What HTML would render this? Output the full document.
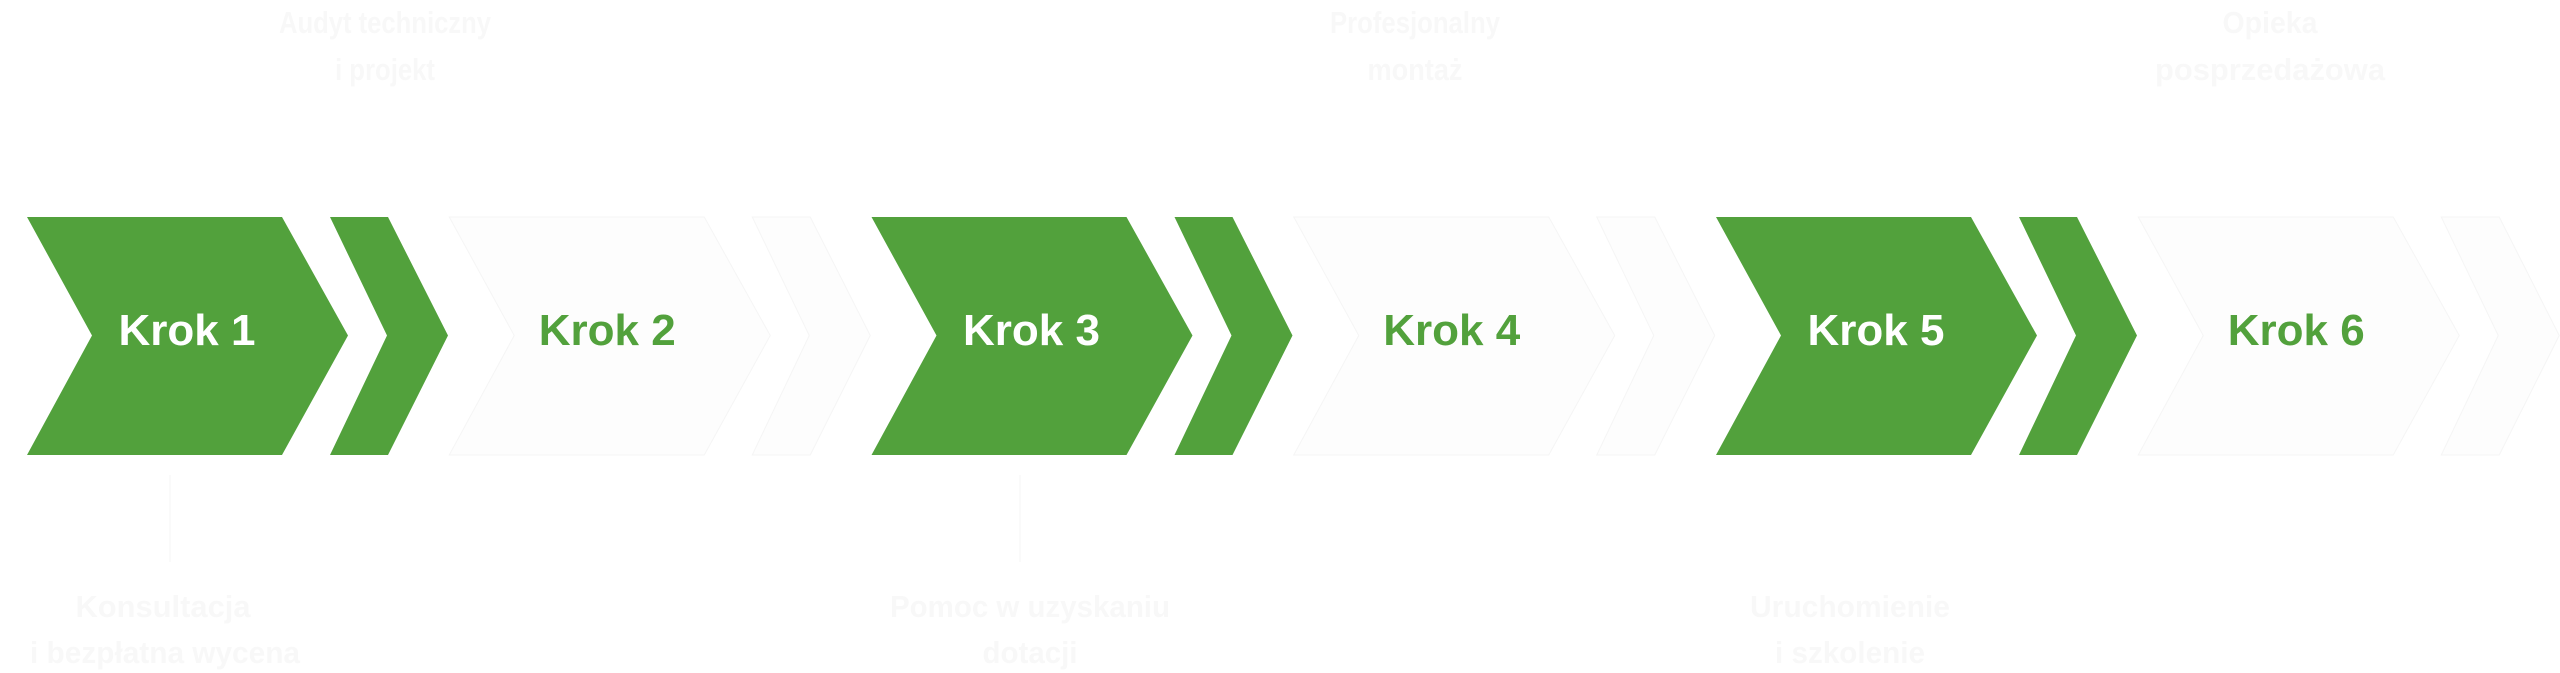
<!DOCTYPE html>
<html>
<head>
<meta charset="utf-8">
<style>
  html, body { margin:0; padding:0; background:#ffffff; }
  body { width:2560px; height:673px; overflow:hidden; }
  svg { display:block; }
  .krok { font-family:"Liberation Sans", sans-serif; font-weight:bold; font-size:44px; }
  .lbl { font-family:"Liberation Sans", sans-serif; font-weight:bold; font-size:31px; fill:#f8f8f8; }
</style>
</head>
<body>
<svg width="2560" height="673" viewBox="0 0 2560 673" xmlns="http://www.w3.org/2000/svg">
  <rect width="2560" height="673" fill="#ffffff"/>

  <!-- Group 1 (green) -->
  <g transform="translate(27,0)">
    <polygon points="0,217 255,217 321,335.5 255,455 0,455 65,335.5" fill="#52a13c"/>
    <polygon points="303,217 361,217 421,335.5 361,455 303,455 360,335.5" fill="#52a13c"/>
    <text class="krok" x="160" y="345" text-anchor="middle" fill="#ffffff">Krok 1</text>
  </g>

  <!-- Group 2 (white) -->
  <g transform="translate(449.25,0)">
    <polygon points="0,217 255,217 321,335.5 255,455 0,455 65,335.5" fill="#fdfdfd" stroke="#f5f5f5" stroke-width="1"/>
    <polygon points="303,217 361,217 421,335.5 361,455 303,455 360,335.5" fill="#fdfdfd" stroke="#f5f5f5" stroke-width="1"/>
    <text class="krok" x="158" y="345" text-anchor="middle" fill="#52a13c">Krok 2</text>
  </g>

  <!-- Group 3 (green) -->
  <g transform="translate(871.5,0)">
    <polygon points="0,217 255,217 321,335.5 255,455 0,455 65,335.5" fill="#52a13c"/>
    <polygon points="303,217 361,217 421,335.5 361,455 303,455 360,335.5" fill="#52a13c"/>
    <text class="krok" x="160" y="345" text-anchor="middle" fill="#ffffff">Krok 3</text>
  </g>

  <!-- Group 4 (white) -->
  <g transform="translate(1293.75,0)">
    <polygon points="0,217 255,217 321,335.5 255,455 0,455 65,335.5" fill="#fdfdfd" stroke="#f5f5f5" stroke-width="1"/>
    <polygon points="303,217 361,217 421,335.5 361,455 303,455 360,335.5" fill="#fdfdfd" stroke="#f5f5f5" stroke-width="1"/>
    <text class="krok" x="158" y="345" text-anchor="middle" fill="#52a13c">Krok 4</text>
  </g>

  <!-- Group 5 (green) -->
  <g transform="translate(1716,0)">
    <polygon points="0,217 255,217 321,335.5 255,455 0,455 65,335.5" fill="#52a13c"/>
    <polygon points="303,217 361,217 421,335.5 361,455 303,455 360,335.5" fill="#52a13c"/>
    <text class="krok" x="160" y="345" text-anchor="middle" fill="#ffffff">Krok 5</text>
  </g>

  <!-- Group 6 (white) -->
  <g transform="translate(2138.25,0)">
    <polygon points="0,217 255,217 321,335.5 255,455 0,455 65,335.5" fill="#fdfdfd" stroke="#f5f5f5" stroke-width="1"/>
    <polygon points="303,217 361,217 421,335.5 361,455 303,455 360,335.5" fill="#fdfdfd" stroke="#f5f5f5" stroke-width="1"/>
    <text class="krok" x="158" y="345" text-anchor="middle" fill="#52a13c">Krok 6</text>
  </g>

  <!-- Connector lines (faint) -->
  <line x1="170" y1="475" x2="170" y2="562" stroke="#f5f5f5" stroke-width="1"/>
  <line x1="1020" y1="475" x2="1020" y2="562" stroke="#f5f5f5" stroke-width="1"/>

  <!-- Top labels -->
  <text class="lbl" x="385" y="33" text-anchor="middle" textLength="212" lengthAdjust="spacingAndGlyphs">Audyt techniczny</text>
  <text class="lbl" x="385" y="80" text-anchor="middle" textLength="100" lengthAdjust="spacingAndGlyphs">i projekt</text>

  <text class="lbl" x="1415" y="33" text-anchor="middle" textLength="170" lengthAdjust="spacingAndGlyphs">Profesjonalny</text>
  <text class="lbl" x="1415" y="80" text-anchor="middle" textLength="95" lengthAdjust="spacingAndGlyphs">montaż</text>

  <text class="lbl" x="2270" y="33" text-anchor="middle" textLength="95" lengthAdjust="spacingAndGlyphs">Opieka</text>
  <text class="lbl" x="2270" y="80" text-anchor="middle" textLength="230" lengthAdjust="spacingAndGlyphs">posprzedażowa</text>

  <!-- Bottom labels -->
  <text class="lbl" x="163" y="617" text-anchor="middle" textLength="175" lengthAdjust="spacingAndGlyphs">Konsultacja</text>
  <text class="lbl" x="165" y="663" text-anchor="middle" textLength="270" lengthAdjust="spacingAndGlyphs">i bezpłatna wycena</text>

  <text class="lbl" x="1030" y="617" text-anchor="middle" textLength="280" lengthAdjust="spacingAndGlyphs">Pomoc w uzyskaniu</text>
  <text class="lbl" x="1030" y="663" text-anchor="middle" textLength="95" lengthAdjust="spacingAndGlyphs">dotacji</text>

  <text class="lbl" x="1850" y="617" text-anchor="middle" textLength="200" lengthAdjust="spacingAndGlyphs">Uruchomienie</text>
  <text class="lbl" x="1850" y="663" text-anchor="middle" textLength="150" lengthAdjust="spacingAndGlyphs">i szkolenie</text>
</svg>
</body>
</html>
